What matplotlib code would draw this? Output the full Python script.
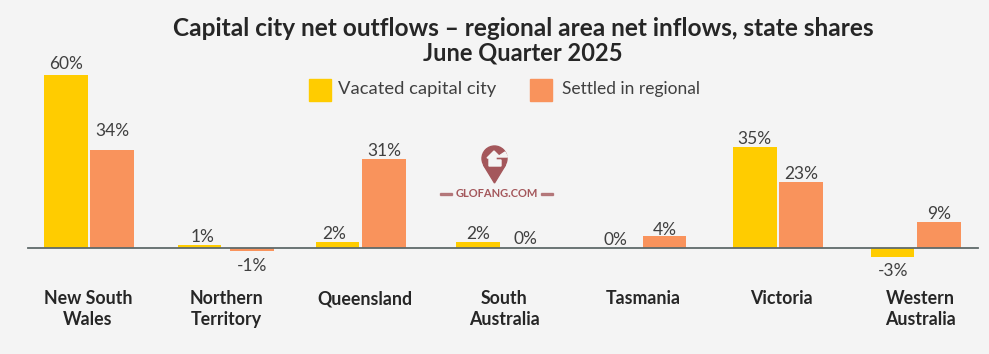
import matplotlib
matplotlib.use("Agg")
import matplotlib.pyplot as plt
from matplotlib.patches import Circle, Polygon, Rectangle
import numpy as np

states = ["New South\nWales", "Northern\nTerritory", "Queensland", "South\nAustralia",
          "Tasmania", "Victoria", "Western\nAustralia"]
vacated = [60, 1, 2, 2, 0, 35, -3]
settled = [34, -1, 31, 0, 4, 23, 9]

# the original slide isn't evenly spaced, nudges in pixels
vac_shift = [0, -4, -4, -1, 0, 0, 0]
set_shift = [0, 2, -4, -1, 1, 0, 0]
vac_lift = [3, 0, 0, 0, 0, 0, -4]
set_lift = [11, -4, 0, 1, -2, 0, 0]
vac_label_dx = [0, 3, -3, 0, -2, 0, 0]
set_label_dx = [0, 0, 1, 1, 0, 0, 0]

YELLOW = "#ffcc00"
ORANGE = "#f9935c"
BG = "#f4f4f4"
DARK = "#262626"
GREY = "#404040"
MARK = "#a4575b"

plt.rcParams["font.family"] = ["Lato", "DejaVu Sans"]

fig = plt.figure(figsize=(9.89, 3.54), dpi=100, facecolor=BG)
ax = fig.add_axes([0, 0, 1, 1], facecolor=BG)

# one x unit = one group, y scale taken from the 60% bar height
step = 137.8
ax.set_xlim(-89 / step, (989 - 89) / step)
ax.set_ylim(-106 / 2.883, 248 / 2.883)
ax.axis("off")

x = np.arange(len(states))
w = 0.316
off = 0.168
x_vac = x - off + np.array(vac_shift) / step
x_set = x + off + np.array(set_shift) / step
ax.bar(x_vac, vacated, w, color=YELLOW, zorder=2)
ax.bar(x_set, settled, w, color=ORANGE, zorder=2)
ax.plot([-61 / step, (978 - 89) / step], [0, 0], color="#5f6a6a", lw=1.3, zorder=3)

for xs, vals, lifts, dxs in ((x_vac, vacated, vac_lift, vac_label_dx), (x_set, settled, set_lift, set_label_dx)):
    for xi, v, lift, dx in zip(xs, vals, lifts, dxs):
        if v < 0:
            ax.annotate(f"{v}%", (xi, v), xytext=(dx * 0.72, -2 + lift * 0.72), textcoords="offset points",
                        ha="center", va="top", fontsize=12.5, color=GREY)
        else:
            ax.annotate(f"{v}%", (xi, v), xytext=(dx * 0.72, lift * 0.72), textcoords="offset points",
                        ha="center", va="bottom", fontsize=12.5, color=GREY)

# labels sit on a slightly wider step than the bars
for i, name in enumerate(states):
    ax.text((88 + 138.7 * i - 89) / step, -14.6, name, ha="center", va="top", fontsize=12.8,
            fontweight="bold", color=DARK, linespacing=1.25)

fig.text(523 / 989, 1 - 28 / 354, "Capital city net outflows \u2013 regional area net inflows, state shares",
         ha="center", va="center", fontsize=17.55, fontweight="bold", color=DARK)
fig.text(523 / 989, 1 - 53 / 354, "June Quarter 2025",
         ha="center", va="center", fontsize=17, fontweight="bold", color=DARK)

# legend
ft = fig.transFigure
def px(a, b):
    return a / 989, 1 - b / 354

for left, col, label, tx, size in ((309, YELLOW, "Vacated capital city", 338, 13.2),
                                   (530, ORANGE, "Settled in regional", 562, 12.5)):
    fig.add_artist(Rectangle(px(left, 101), 22 / 989, 22 / 354, color=col, transform=ft))
    fig.text(*px(tx, 89.5), label, ha="left", va="center", fontsize=size, color=GREY)

# watermark
ph = fig.dpi_scale_trans
def inch(a, b):
    return a / 100, (354 - b) / 100

fig.add_artist(Circle(inch(494.5, 158.5), 12.5 / 100, color=MARK, transform=ph))
fig.add_artist(Polygon([inch(483.5, 165), inch(505.5, 165), inch(494.5, 183)], color=MARK, transform=ph))
fig.add_artist(Polygon([inch(494, 151), inch(487, 158), inch(489, 158), inch(489, 166), inch(501, 166),
                        inch(501, 160), inch(496, 160), inch(496, 157), inch(507.5, 157),
                        inch(505, 152), inch(499, 156)], color=BG, transform=ph))
fig.text(*px(496.5, 194), "GLOFANG.COM", ha="center", va="center", fontsize=8,
         fontweight="bold", color=MARK)
for a, b in ((440, 452), (541, 553)):
    fig.add_artist(Rectangle(px(a, 194.5), (b - a) / 989, 1.2 / 354, color=MARK, alpha=0.7, transform=ft))

fig.savefig("out.png", dpi=100, facecolor=BG)
